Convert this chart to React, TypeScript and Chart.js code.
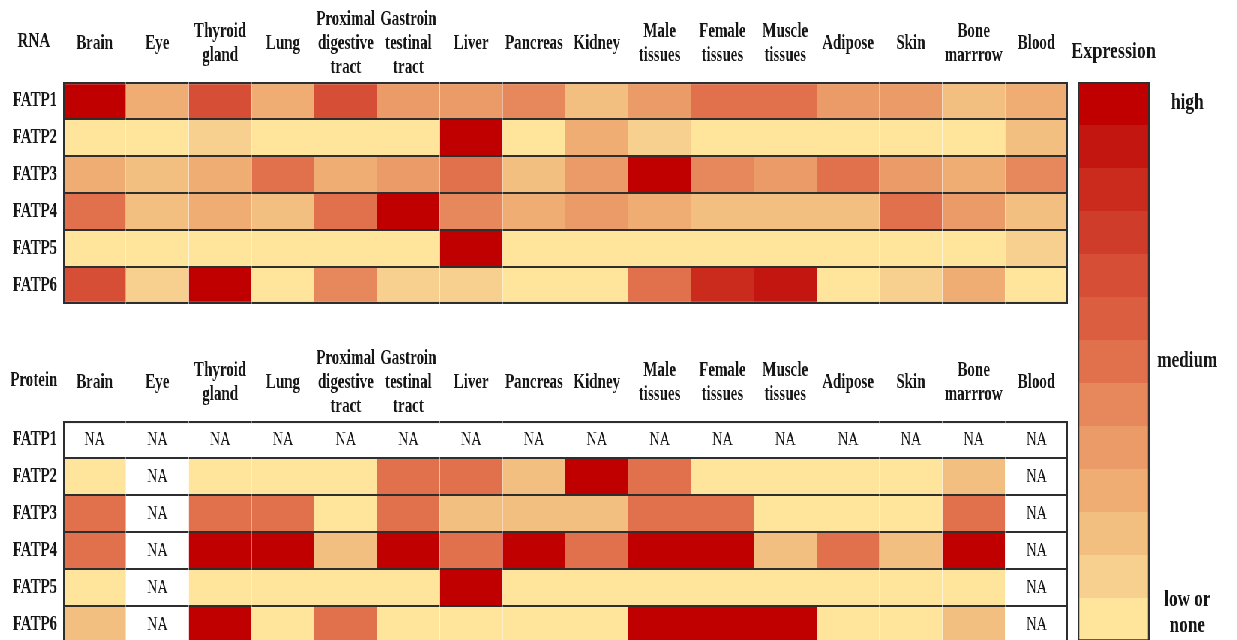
import React, { useEffect, useRef } from 'react';
import { Chart, registerables } from 'chart.js';

Chart.register(...registerables);

// ---------- data ----------
const tissueLabels: string[][] = [
  ['Brain'],
  ['Eye'],
  ['Thyroid', 'gland'],
  ['Lung'],
  ['Proximal', 'digestive', 'tract'],
  ['Gastroin', 'testinal', 'tract'],
  ['Liver'],
  ['Pancreas'],
  ['Kidney'],
  ['Male', 'tissues'],
  ['Female', 'tissues'],
  ['Muscle', 'tissues'],
  ['Adipose'],
  ['Skin'],
  ['Bone', 'marrrow'],
  ['Blood'],
];

const geneLabels = ['FATP1', 'FATP2', 'FATP3', 'FATP4', 'FATP5', 'FATP6'];

// expression level 0 (low or none) .. 12 (high)
const rnaLevels: number[][] = [
  [12, 3, 8, 3, 8, 4, 4, 5, 2, 4, 6, 6, 4, 4, 2, 3],
  [0, 0, 1, 0, 0, 0, 12, 0, 3, 1, 0, 0, 0, 0, 0, 2],
  [3, 2, 3, 6, 3, 4, 6, 2, 4, 12, 5, 4, 6, 4, 3, 5],
  [6, 2, 3, 2, 6, 12, 5, 3, 4, 3, 2, 2, 2, 6, 4, 2],
  [0, 0, 0, 0, 0, 0, 12, 0, 0, 0, 0, 0, 0, 0, 0, 1],
  [8, 1, 12, 0, 5, 1, 1, 0, 0, 6, 10, 11, 0, 1, 3, 0],
];

const N = null;
// null = NA
const proteinLevels: (number | null)[][] = [
  [N, N, N, N, N, N, N, N, N, N, N, N, N, N, N, N],
  [0, N, 0, 0, 0, 6, 6, 2, 12, 6, 0, 0, 0, 0, 2, N],
  [6, N, 6, 6, 0, 6, 2, 2, 2, 6, 6, 0, 0, 0, 6, N],
  [6, N, 12, 12, 2, 12, 6, 12, 6, 12, 12, 2, 6, 2, 12, N],
  [0, N, 0, 0, 0, 0, 12, 0, 0, 0, 0, 0, 0, 0, 0, N],
  [2, N, 12, 0, 6, 0, 0, 0, 0, 12, 12, 12, 0, 0, 2, N],
];

const palette = [
  '#FEE59B', '#F7CF8F', '#F3BF80', '#EFAD73', '#EA9B67', '#E6885B', '#E1714D',
  '#DB5E40', '#D54E35', '#CF3C29', '#CA2B1D', '#C41610', '#C00000',
];

const legendLevels = [12, 11, 10, 9, 8, 7, 6, 5, 4, 3, 2, 1, 0];
const legendTickLabels: (string | string[])[] = [
  'high', '', '', '', '', '', 'medium', '', '', '', '', '', ['low or', '', 'none', ''],
];
const legendTitle = 'Expression';

// ---------- style ----------
const SX = 0.75; // horizontal condensation of the whole figure
const FONT = "'Liberation Serif', 'Times New Roman', serif";
const TEXT = '#161616';
const BORDER = '#2e2e2e';

function headerSlots(lines: string[]): string[] {
  if (lines.length === 1) return ['', '', lines[0], '', ''];
  if (lines.length === 2) return ['', lines[0], '', lines[1], ''];
  return [lines[0], '', lines[1], '', lines[2]];
}

const cornerPlugin = {
  id: 'corner',
  afterDraw(chart: any, _args: any, opts: any) {
    const { ctx, chartArea } = chart;
    ctx.save();
    ctx.font = `bold ${opts.size || 20}px ${FONT}`;
    ctx.fillStyle = TEXT;
    ctx.textAlign = 'center';
    ctx.textBaseline = 'middle';
    const x = opts.x === 'center' ? (chartArea.left + chartArea.right) / 2 : opts.x;
    ctx.fillText(opts.text, x, chartArea.top - opts.dy);
    ctx.restore();
  },
};

const naPlugin = {
  id: 'naText',
  afterDatasetsDraw(chart: any) {
    const { ctx } = chart;
    ctx.save();
    ctx.font = `normal 19px ${FONT}`;
    ctx.fillStyle = TEXT;
    ctx.textAlign = 'center';
    ctx.textBaseline = 'middle';
    chart.data.datasets.forEach((ds: any, di: number) => {
      const meta = chart.getDatasetMeta(di);
      (ds.levels || []).forEach((lv: number | null, ri: number) => {
        if (lv !== null) return;
        const el = meta.data[ri];
        ctx.fillText('NA', (el.x + el.base) / 2, el.y + 1);
      });
    });
    ctx.restore();
  },
};

function noPadY(s: any, width: number) {
  s.width = width;
  s.paddingTop = 0;
  s.paddingBottom = 0;
}

function heatmapConfig(levels: (number | null)[][], corner: string): any {
  const lastRow = geneLabels.length - 1;
  const lastCol = tissueLabels.length - 1;
  const datasets = tissueLabels.map((t, c) => ({
    label: t.join(' '),
    data: geneLabels.map(() => [c, c + 1]),
    levels: levels.map((row) => row[c]),
    backgroundColor: levels.map((row) => (row[c] === null ? '#ffffff' : palette[row[c] as number])),
    borderColor: BORDER,
    borderWidth: (ctx: any) => ({
      top: ctx.dataIndex === 0 ? 2.2 : 1.1,
      bottom: ctx.dataIndex === lastRow ? 2.2 : 1.1,
      left: c === 0 ? 2.6 : 0,
      right: c === lastCol ? 2.6 : 0,
    }),
    borderSkipped: false,
    barPercentage: 1,
    categoryPercentage: 1,
    grouped: false,
    inflateAmount: 0,
  }));
  const headers = tissueLabels.map(headerSlots);
  return {
    type: 'bar',
    data: { labels: geneLabels, datasets },
    plugins: [cornerPlugin, naPlugin],
    options: {
      animation: false,
      responsive: false,
      indexAxis: 'y',
      layout: { padding: { left: 0, top: 0, right: 3, bottom: 8 } },
      scales: {
        x: {
          type: 'linear',
          position: 'top',
          min: 0,
          max: tissueLabels.length,
          grid: { display: false, drawTicks: false },
          border: { display: false },
          afterBuildTicks: (s: any) => {
            s.ticks = tissueLabels.map((_, i) => ({ value: i + 0.5 }));
          },
          afterFit: (s: any) => {
            s.height = 82;
            s.paddingLeft = 0;
            s.paddingRight = 0;
          },
          ticks: {
            autoSkip: false,
            maxRotation: 0,
            minRotation: 0,
            padding: 8,
            color: TEXT,
            font: { family: FONT, size: 20, weight: 'bold', lineHeight: 0.6 },
            callback: (_v: any, i: number) => headers[i],
          },
        },
        y: {
          type: 'category',
          position: 'left',
          grid: { display: false, drawTicks: false },
          border: { display: false },
          afterFit: (s: any) => noPadY(s, 84),
          ticks: {
            padding: 8,
            color: TEXT,
            font: { family: FONT, size: 20, weight: 'bold' },
          },
        },
      },
      plugins: {
        legend: { display: false },
        tooltip: { enabled: false },
        corner: { text: corner, x: 45, dy: 40 },
      },
    },
  };
}

function legendConfig(): any {
  const last = legendLevels.length - 1;
  return {
    type: 'bar',
    data: {
      labels: legendTickLabels,
      datasets: [
        {
          label: legendTitle,
          data: legendLevels.map(() => [0, 1]),
          backgroundColor: legendLevels.map((l) => palette[l]),
          borderColor: BORDER,
          borderWidth: (ctx: any) => ({
            left: 2.6,
            right: 2.6,
            top: ctx.dataIndex === 0 ? 2.2 : 0,
            bottom: ctx.dataIndex === last ? 2.2 : 0,
          }),
          borderSkipped: false,
          barPercentage: 1,
          categoryPercentage: 1,
        },
      ],
    },
    plugins: [cornerPlugin],
    options: {
      animation: false,
      responsive: false,
      indexAxis: 'y',
      layout: { padding: { left: 24, right: 0, top: 82, bottom: 9 } },
      scales: {
        x: { type: 'linear', display: false, min: 0, max: 1 },
        y: {
          type: 'category',
          position: 'right',
          grid: { display: false, drawTicks: false },
          border: { display: false },
          afterFit: (s: any) => noPadY(s, 116),
          ticks: {
            autoSkip: false,
            crossAlign: 'center',
            padding: 10,
            color: TEXT,
            font: { family: FONT, size: 23, weight: 'bold', lineHeight: 0.565 },
          },
        },
      },
      plugins: {
        legend: { display: false },
        tooltip: { enabled: false },
        corner: { text: legendTitle, x: 'center', dy: 30, size: 24 },
      },
    },
  };
}

export default function App() {
  const rnaRef = useRef<HTMLCanvasElement | null>(null);
  const protRef = useRef<HTMLCanvasElement | null>(null);
  const legRef = useRef<HTMLCanvasElement | null>(null);

  useEffect(() => {
    const charts: Chart[] = [];
    if (rnaRef.current) charts.push(new Chart(rnaRef.current, heatmapConfig(rnaLevels, 'RNA')));
    if (protRef.current) charts.push(new Chart(protRef.current, heatmapConfig(proteinLevels, 'Protein')));
    if (legRef.current) charts.push(new Chart(legRef.current, legendConfig()));
    return () => charts.forEach((c) => c.destroy());
  }, []);

  const VW = 1237 / SX;
  return (
    <div
      style={{
        position: 'fixed',
        left: 0,
        top: 0,
        width: 1237,
        height: 640,
        overflow: 'hidden',
        background: '#ffffff',
      }}
    >
      <div
        style={{
          position: 'absolute',
          left: 0,
          top: 0,
          width: VW,
          height: 660,
          transform: `scaleX(${SX})`,
          transformOrigin: '0 0',
        }}
      >
        <canvas
          ref={rnaRef}
          width={1427}
          height={312}
          style={{ position: 'absolute', left: 0, top: 0, width: 1427, height: 312 }}
        />
        <canvas
          ref={protRef}
          width={1427}
          height={312}
          style={{ position: 'absolute', left: 0, top: 339, width: 1427, height: 312 }}
        />
        <canvas
          ref={legRef}
          width={236}
          height={650}
          style={{ position: 'absolute', left: 1413, top: 0, width: 236, height: 650 }}
        />
      </div>
    </div>
  );
}
